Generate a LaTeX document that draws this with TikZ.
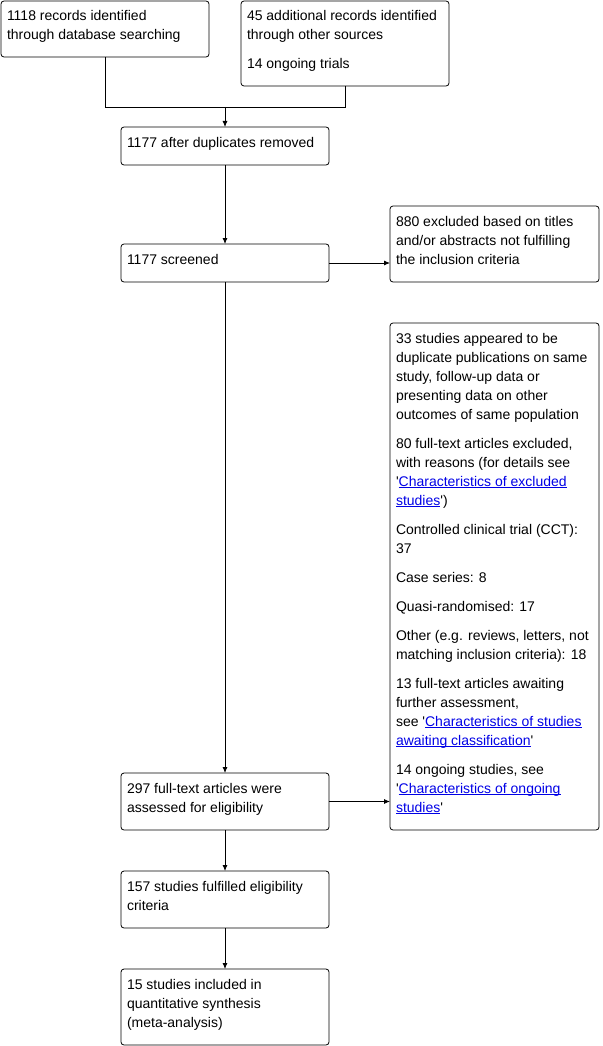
\documentclass[tikz,border=0pt]{standalone}
\usepackage{fontspec}
\setmainfont{Liberation Sans}
\usepackage{tikz}
\usetikzlibrary{arrows.meta}
\definecolor{linkblue}{RGB}{0,0,230}
\newcommand{\boxtext}[3]{\parbox[t][#2][t]{#1}{\raggedright\leftskip=6pt\parskip=10pt\rule{0pt}{20pt}#3}}
\newcommand{\lnk}[1]{\textcolor{linkblue}{\setbox0\hbox{#1}\rlap{\rule[-2.2pt]{\wd0}{0.8pt}}\box0}}
\newcommand{\sq}{\textquotesingle}
\tikzset{
  flowbox/.style={draw, line width=.8pt, rounded corners=3pt, anchor=north west, inner sep=0pt, outer sep=0pt},
  flowarr/.style={line width=.8pt, -{Latex[length=6pt,width=5pt]}}
}

\begin{document}
\begin{tikzpicture}[x=1pt,y=-1pt,font=\fontsize{14pt}{19pt}\selectfont]
    \useasboundingbox (0,0) rectangle (602,1046);
    % identification
    \node[flowbox] (recdb) at (1,1) {\boxtext{208pt}{56pt}{1118 records identified\\through database searching}};
    \node[flowbox] (recother) at (241,1) {\boxtext{208pt}{85pt}{45 additional records identified\\through other sources\par 14 ongoing trials}};
    \node[flowbox] (dedup) at (121,127) {\boxtext{208pt}{38pt}{1177 after duplicates removed}};
    \coordinate (merge) at (225,107);
    \draw[line width=.8pt] (recdb.south) |- (merge);
    \draw[line width=.8pt] (recother.south) |- (merge);
    \draw[flowarr] (merge) -- (dedup.north);
    % screening
    \node[flowbox] (screened) at (121,244) {\boxtext{208pt}{38pt}{1177 screened}};
    \node[flowbox] (excl) at (390,206) {\boxtext{209pt}{76pt}{880 excluded based on titles\\and/or abstracts not fulfilling\\the inclusion criteria}};
    \draw[flowarr] (dedup.south) -- (screened.north);
    \draw[flowarr] (screened.east) -- (screened.east -| excl.west);
    % eligibility
    \node[flowbox] (fulltext) at (121,773) {\boxtext{208pt}{57pt}{297 full-text articles were\\assessed for eligibility}};
    \node[flowbox] (exclft) at (390,323) {\boxtext{209pt}{507pt}{%
      33 studies appeared to be\\duplicate publications on same\\study, follow-up data or\\presenting data on other\\outcomes of same population\par
      80 full-text articles excluded,\\with reasons (for details see\\\sq\lnk{Characteristics of excluded}\\\lnk{studies}\sq)\par
      Controlled clinical trial (CCT):\\37\par
      Case series: 8\par
      Quasi-randomised: 17\par
      Other (e.g. reviews, letters, not\\matching inclusion criteria): 18\par
      13 full-text articles awaiting\\further assessment,\\see \sq\lnk{Characteristics of studies}\\\lnk{awaiting classification}\sq\par
      14 ongoing studies, see\\\sq\lnk{Characteristics of ongoing}\\\lnk{studies}\sq}};
    \draw[flowarr] (screened.south) -- (fulltext.north);
    \draw[flowarr] (fulltext.east) -- (fulltext.east -| exclft.west);
    % included
    \node[flowbox] (eligible) at (121,871) {\boxtext{208pt}{57pt}{157 studies fulfilled eligibility\\criteria}};
    \node[flowbox] (included) at (121,969) {\boxtext{208pt}{76pt}{15 studies included in\\quantitative synthesis\\(meta-analysis)}};
    \draw[flowarr] (fulltext.south) -- (eligible.north);
    \draw[flowarr] (eligible.south) -- (included.north);
  \end{tikzpicture}
\end{document}
